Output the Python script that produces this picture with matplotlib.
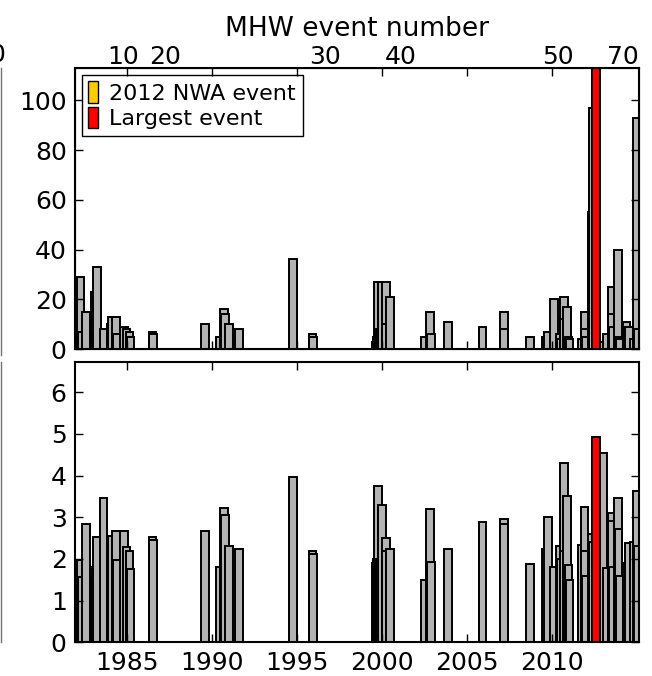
import matplotlib
matplotlib.use("Agg")
import matplotlib.pyplot as plt
from matplotlib.patches import Patch
from matplotlib.lines import Line2D

# MHW events: start (decimal year), duration (days), max intensity (deg C)
start = [1982.04, 1982.12, 1982.39, 1982.88, 1982.95, 1983.02, 1983.41, 1983.83, 1983.88,
         1984.12, 1984.20, 1984.59, 1984.75, 1984.94, 1985.00,
         1986.29, 1986.31, 1989.39, 1990.27, 1990.50, 1990.53, 1990.80, 1991.39,
         1994.53, 1995.70, 1995.73,
         1999.41, 1999.45, 1999.50, 1999.56, 1999.60, 1999.65, 1999.78, 2000.00, 2000.02, 2000.24,
         2002.30, 2002.60, 2002.65, 2003.65, 2005.70, 2006.92, 2006.94, 2006.97, 2008.47,
         2009.43, 2009.55, 2009.88, 2010.27, 2010.30, 2010.47, 2010.50, 2010.67, 2010.76, 2010.80,
         2011.55, 2011.70, 2011.72, 2011.75, 2012.15, 2012.18,
         2012.78, 2013.02, 2013.27, 2013.30, 2013.35, 2013.65, 2013.70, 2013.75,
         2014.16, 2014.32, 2014.59, 2014.79, 2014.85]
duration = [29, 7, 15, 23, 6, 33, 8, 10, 13,
            13, 6, 9, 8, 7, 5,
            7, 6, 10, 5, 16, 14, 10, 8,
            36, 6, 5,
            3, 5, 4, 27, 6, 8, 27, 27, 10, 21,
            5, 15, 6, 11, 9, 4, 15, 8, 5,
            5, 7, 20, 6, 4, 21, 12, 17, 5, 4,
            4, 15, 8, 5, 55, 97,
            3, 6, 25, 14, 9, 40, 5, 4,
            11, 9, 4, 93, 8]
intensity = [1.97, 1.57, 2.85, 1.55, 1.8, 2.52, 3.45, 2.05, 2.56,
             2.66, 1.98, 2.66, 2.28, 2.2, 1.75,
             2.52, 2.45, 2.68, 1.8, 3.22, 3.05, 2.3, 2.23,
             3.96, 2.2, 2.12,
             1.9, 2.0, 1.95, 3.76, 1.85, 2.0, 3.29, 2.5, 2.2, 2.25,
             1.5, 3.19, 1.93, 2.25, 2.88, 2.33, 2.95, 2.85, 1.87,
             2.25, 3.0, 1.82, 2.3, 2.0, 4.3, 2.2, 3.52, 1.85, 1.5,
             2.33, 3.24, 2.2, 1.6, 2.6, 2.4,
             4.53, 1.78, 3.1, 2.9, 1.8, 3.45, 2.73, 1.6,
             1.9, 2.38, 2.4, 3.62, 2.3]

# 2012 NW Atlantic event (also the largest event)
big_start = 2012.37
big_duration = 160
big_intensity = 4.92

year_ticks = [1985, 1990, 1995, 2000, 2005, 2010]
event_label_pos = [1984.76, 1987.24, 1996.65, 2001.12, 2010.35, 2014.15]
event_labels = ["10", "20", "30", "40", "50", "70"]

bar_w = 0.45
grey = (0.7, 0.7, 0.7)
gold = (1.0, 0.8, 0.0)

fig = plt.figure(figsize=(6.52, 6.76), dpi=100)
ax1 = fig.add_axes([0.115, 0.4837, 0.865, 0.4157])
ax2 = fig.add_axes([0.115, 0.0496, 0.865, 0.4149])

for ax, vals, big in ((ax1, duration, big_duration), (ax2, intensity, big_intensity)):
    ax.bar(start, vals, width=bar_w, align="edge", color=grey, edgecolor="k", linewidth=1.4)
    ax.bar(big_start, big, width=bar_w, align="edge", color=gold, edgecolor="k", linewidth=1.4)
    ax.bar(big_start, big, width=bar_w, align="edge", color="red", edgecolor="k", linewidth=1.4)
    ax.set_xlim(1981.95, 2015.12)
    ax.set_xticks(year_ticks)
    ax.tick_params(direction="in", top=True, right=True, length=6, width=1, labelsize=18, pad=6)
    for s in ax.spines.values():
        s.set_linewidth(1.5)

ax1.set_ylim(0, 113)
ax1.set_yticks([0, 20, 40, 60, 80, 100])
ax1.set_xticklabels([])
ax2.set_ylim(0, 6.72)
ax2.set_yticks([0, 1, 2, 3, 4, 5, 6])

# event number axis on top
axt = ax1.twiny()
axt.set_xlim(ax1.get_xlim())
axt.set_xticks(year_ticks)
axt.set_xticklabels([])
axt.tick_params(which="major", direction="in", length=6, width=1)
axt.set_xticks(event_label_pos, minor=True)
axt.set_xticklabels(event_labels, minor=True)
axt.tick_params(which="minor", length=0, labelsize=18, pad=-1)
axt.set_xlabel("MHW event number", fontsize=19, labelpad=7)

handles = [Patch(facecolor=gold, edgecolor="k"), Patch(facecolor="red", edgecolor="k")]
leg = ax1.legend(handles, ["2012 NWA event", "Largest event"], loc="upper left",
                 fontsize=16, handlelength=0.45, handleheight=1.1, handletextpad=0.5,
                 borderaxespad=0.3, borderpad=0.3, labelspacing=0.15,
                 fancybox=False, edgecolor="k", framealpha=1)
leg.get_frame().set_linewidth(1.0)

# bits of the neighbouring panel cut off at the left edge
fig.add_artist(Line2D([0.002, 0.002], [1 - 68 / 676, 1 - 355 / 676], color="0.45", lw=1))
fig.add_artist(Line2D([0.002, 0.002], [1 - 362 / 676, 1 - 642 / 676], color="0.45", lw=1))
fig.text(5 / 652, 1 - 55 / 676, "0", ha="right", va="center", fontsize=18)

fig.savefig("out.png", dpi=100)
